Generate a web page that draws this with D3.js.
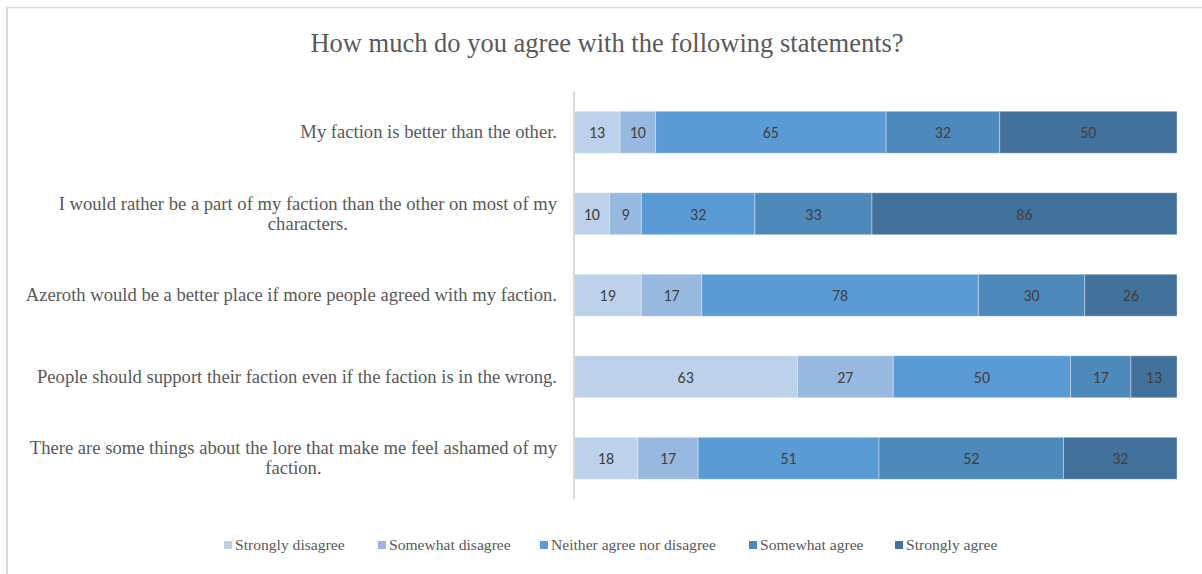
<!DOCTYPE html>
<html>
<head>
<meta charset="utf-8">
<script src="https://cdn.jsdelivr.net/npm/d3@7"></script>
<style>
  html, body { margin: 0; padding: 0; background: #fff; }
  svg { display: block; }
</style>
</head>
<body>
<svg id="chart" width="1202" height="574"></svg>
<script>
// Survey statements (top to bottom) and response counts per answer level
const statements = [
  "My faction is better than the other.",
  "I would rather be a part of my faction than the other on most of my characters.",
  "Azeroth would be a better place if more people agreed with my faction.",
  "People should support their faction even if the faction is in the wrong.",
  "There are some things about the lore that make me feel ashamed of my faction."
];
const responses = ["Strongly disagree", "Somewhat disagree", "Neither agree nor disagree", "Somewhat agree", "Strongly agree"];
const stronglyDisagree = [13, 10, 19, 63, 18];
const somewhatDisagree = [10, 9, 17, 27, 17];
const neitherAgree     = [65, 32, 78, 50, 51];
const somewhatAgree    = [32, 33, 30, 17, 52];
const stronglyAgree    = [50, 86, 26, 13, 32];
const title = "How much do you agree with the following statements?";

const seriesValues = [stronglyDisagree, somewhatDisagree, neitherAgree, somewhatAgree, stronglyAgree];
const colors = ["#bdd1ea", "#97b8df", "#5b9bd5", "#4e89bc", "#42729c"];

const rows = statements.map((s, i) => {
  const r = { statement: s };
  responses.forEach((k, j) => { r[k] = seriesValues[j][i]; });
  return r;
});

const svg = d3.select("#chart");
const serif = "'Liberation Serif', 'Times New Roman', serif";

// chart frame
svg.append("line").attr("x1", 6).attr("x2", 1202).attr("y1", 7.5).attr("y2", 7.5)
  .attr("stroke", "#d9d9d9").attr("stroke-width", 1.5);
svg.append("line").attr("x1", 7).attr("x2", 7).attr("y1", 7).attr("y2", 574)
  .attr("stroke", "#d9d9d9").attr("stroke-width", 2);

svg.append("text")
  .attr("x", 607).attr("y", 52)
  .attr("text-anchor", "middle")
  .attr("font-family", serif)
  .attr("font-size", 26.5)
  .attr("fill", "#595959")
  .text(title);

const stack = d3.stack().keys(responses)(rows);
const total = d3.max(rows, r => d3.sum(responses, k => r[k]));

const x = d3.scaleLinear().domain([0, total]).range([574, 1177]);
const y = d3.scaleBand().domain(statements).range([91.5, 499])
  .paddingInner(0.485).paddingOuter(0.2425);

const layers = svg.append("g").selectAll("g").data(stack).join("g")
  .attr("fill", (d, i) => colors[i]);

layers.selectAll("rect").data(d => d).join("rect")
  .attr("x", d => x(d[0]))
  .attr("y", d => y(d.data.statement))
  .attr("width", d => x(d[1]) - x(d[0]))
  .attr("height", y.bandwidth())
  .attr("stroke", "#ffffff")
  .attr("stroke-opacity", 0.35)
  .attr("stroke-width", 1);

layers.selectAll("text").data(d => d).join("text")
  .attr("x", d => (x(d[0]) + x(d[1])) / 2)
  .attr("y", d => y(d.data.statement) + y.bandwidth() / 2)
  .attr("dy", "0.36em")
  .attr("text-anchor", "middle")
  .attr("font-family", "Carlito, Lato, 'Open Sans', sans-serif")
  .attr("font-size", 16)
  .attr("fill", "#404040")
  .text(d => d[1] - d[0]);

// category axis line
svg.append("line")
  .attr("x1", x(0)).attr("x2", x(0))
  .attr("y1", 91.5).attr("y2", 499)
  .attr("stroke", "#d9d9d9").attr("stroke-width", 2);

// category labels: wrapped, centred block, right edge at 557
const labelRight = 557, maxW = 540, lineH = 20;
const labelG = svg.append("g")
  .attr("font-family", serif)
  .attr("font-size", 18.6)
  .attr("fill", "#595959");

statements.forEach(s => {
  const t = labelG.append("text").attr("text-anchor", "middle");
  const words = s.split(" ");
  const lines = [];
  let cur = [];
  const probe = labelG.append("text");
  words.forEach(w => {
    const test = cur.concat(w).join(" ");
    probe.text(test);
    if (probe.node().getComputedTextLength() > maxW && cur.length) {
      lines.push(cur.join(" "));
      cur = [w];
    } else cur.push(w);
  });
  lines.push(cur.join(" "));
  const widths = lines.map(l => { probe.text(l); return probe.node().getComputedTextLength(); });
  probe.remove();
  const wMax = d3.max(widths);
  const cx = labelRight - wMax / 2;
  const cy = y(s) + y.bandwidth() / 2;
  const y0 = cy - (lines.length - 1) * lineH / 2;
  lines.forEach((l, i) => {
    t.append("tspan").attr("x", cx).attr("y", y0 + i * lineH).attr("dy", "0.33em").text(l);
  });
});

// legend
const legendX = [224, 378, 540, 749, 895];
const legend = svg.append("g")
  .attr("font-family", serif)
  .attr("font-size", 15.6)
  .attr("fill", "#595959");
responses.forEach((r, i) => {
  legend.append("rect").attr("x", legendX[i]).attr("y", 541).attr("width", 8).attr("height", 8)
    .attr("fill", colors[i]);
  legend.append("text").attr("x", legendX[i] + 11).attr("y", 545).attr("dy", "0.35em").text(r);
});
</script>
</body>
</html>
